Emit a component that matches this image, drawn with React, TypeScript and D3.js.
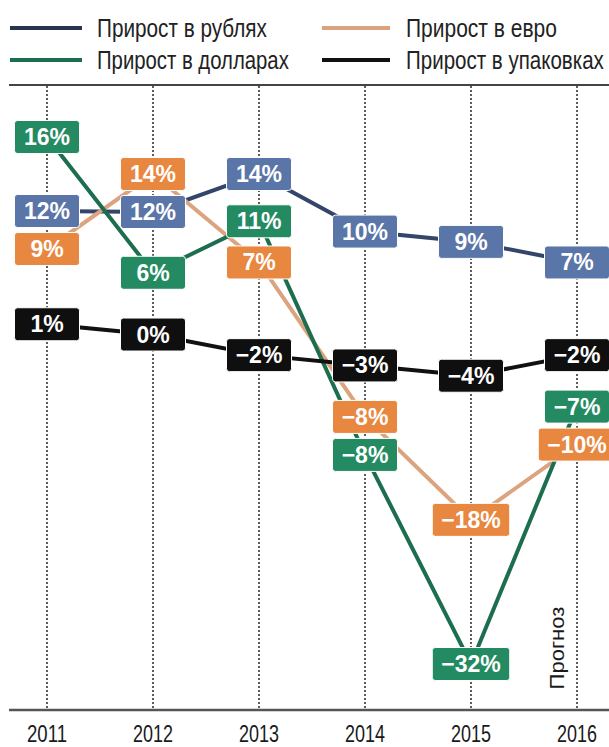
import { useEffect, useRef } from "react";
import * as d3 from "d3";

const years = ["2011", "2012", "2013", "2014", "2015", "2016"];
const rubles = [12, 12, 14, 10, 9, 7];
const euro = [9, 14, 7, -8, -18, -10];
const dollars = [16, 6, 11, -8, -32, -7];
const packs = [1, 0, -2, -3, -4, -2];
const seriesNames = [
  "Прирост в рублях",
  "Прирост в евро",
  "Прирост в долларах",
  "Прирост в упаковках",
];
const forecastLabel = "Прогноз";

const FONT = "'Liberation Sans', Arial, sans-serif";

const App: React.FC = () => {
  const ref = useRef<SVGSVGElement>(null);

  useEffect(() => {
    const svg = d3.select(ref.current);
    svg.selectAll("*").remove();

    const series = [
      { name: seriesNames[0], values: rubles, box: "#5a75a8", line: "#34456a" },
      { name: seriesNames[1], values: euro, box: "#e8873f", line: "#dca47e" },
      { name: seriesNames[2], values: dollars, box: "#248a62", line: "#1d6e4f" },
      { name: seriesNames[3], values: packs, box: "#0f0f0f", line: "#111111" },
    ];

    const x = d3.scalePoint<string>().domain(years).range([47, 577]);
    // piecewise scale, the top end is stretched a little in the original
    const y = d3.scaleLinear().domain([-32, 12, 16]).range([664, 211, 137]);

    // label positions, pushed down when boxes collide in the same year
    const gap = 38;
    const pos = series.map((s) => s.values.map((v) => y(v)));
    years.forEach((_, j) => {
      const order = series
        .map((_, i) => i)
        .sort((a, b) => pos[a][j] - pos[b][j] || a - b);
      for (let k = 1; k < order.length; k++) {
        const prev = pos[order[k - 1]][j];
        if (pos[order[k]][j] < prev + gap) pos[order[k]][j] = prev + gap;
      }
    });

    // squeeze a text horizontally to a given width (the original font is condensed)
    const squeeze = (
      t: d3.Selection<SVGTextElement, unknown, null, undefined>,
      tx: number,
      ty: number,
      w: number
    ) => {
      const len = (t.node() as SVGTextElement).getComputedTextLength();
      t.attr("transform", `translate(${tx},${ty}) scale(${w / len},1)`);
    };

    svg.append("rect").attr("width", 609).attr("height", 747).attr("fill", "#ffffff");

    // legend
    const legendSpots = [
      { x1: 10, x2: 82, tx: 97, y: 28, w: 170 },
      { x1: 322, x2: 390, tx: 406, y: 28, w: 151 },
      { x1: 10, x2: 82, tx: 97, y: 60, w: 192 },
      { x1: 322, x2: 390, tx: 406, y: 60, w: 198 },
    ];
    series.forEach((s, i) => {
      const p = legendSpots[i];
      svg
        .append("line")
        .attr("x1", p.x1)
        .attr("x2", p.x2)
        .attr("y1", p.y)
        .attr("y2", p.y)
        .attr("stroke", i === 0 ? "#27344f" : s.line)
        .attr("stroke-width", 4);
      const t = svg
        .append("text")
        .attr("font-family", FONT)
        .attr("font-size", 25)
        .attr("fill", "#222")
        .text(s.name);
      squeeze(t as any, p.tx, p.y + 9, p.w);
    });

    // top rule
    svg
      .append("line")
      .attr("x1", 9)
      .attr("x2", 609)
      .attr("y1", 85)
      .attr("y2", 85)
      .attr("stroke", "#444")
      .attr("stroke-width", 2);

    // dotted year gridlines
    svg
      .selectAll(".grid")
      .data(years)
      .enter()
      .append("line")
      .attr("class", "grid")
      .attr("x1", (d) => x(d)!)
      .attr("x2", (d) => x(d)!)
      .attr("y1", 86)
      .attr("y2", 709)
      .attr("stroke", "#333")
      .attr("stroke-width", 1.6)
      .attr("stroke-dasharray", "2,2");

    // bottom axis
    svg
      .append("line")
      .attr("x1", 9)
      .attr("x2", 609)
      .attr("y1", 710)
      .attr("y2", 710)
      .attr("stroke", "#555")
      .attr("stroke-width", 2.5);

    years.forEach((yr) => {
      const t = svg
        .append("text")
        .attr("font-family", FONT)
        .attr("font-size", 24)
        .attr("fill", "#1a1a1a")
        .text(yr);
      squeeze(t as any, x(yr)! - 20, 742, 40);
    });

    // forecast note
    const note = svg
      .append("text")
      .attr("text-anchor", "middle")
      .attr("font-family", FONT)
      .attr("font-size", 21)
      .attr("fill", "#1a1a1a")
      .text(forecastLabel);
    const noteLen = (note.node() as SVGTextElement).getComputedTextLength();
    note.attr("transform", `translate(564,648) rotate(-90) scale(${83 / noteLen},1)`);

    // lines
    const line = d3
      .line<number>()
      .x((_, j) => x(years[j])!)
      .y((d) => d);
    series.forEach((s, i) => {
      svg
        .append("path")
        .attr("d", line(pos[i]))
        .attr("fill", "none")
        .attr("stroke", s.line)
        .attr("stroke-width", 4);
    });

    // value boxes
    series.forEach((s, i) => {
      s.values.forEach((v, j) => {
        const g = svg
          .append("g")
          .attr("transform", `translate(${x(years[j])},${pos[i][j]})`);
        const rect = g.append("rect");
        const t = g
          .append("text")
          .attr("text-anchor", "middle")
          .attr("y", 8)
          .attr("font-family", FONT)
          .attr("font-weight", "bold")
          .attr("font-size", 23)
          .attr("fill", "#ffffff")
          .text(`${v < 0 ? "\u2212" + Math.abs(v) : v}%`);
        const tw = (t.node() as SVGTextElement).getComputedTextLength();
        const w = Math.max(65, tw + 18);
        rect
          .attr("x", -w / 2)
          .attr("y", -16.5)
          .attr("width", w)
          .attr("height", 33)
          .attr("rx", 3)
          .attr("fill", s.box)
          .attr("stroke", "#ffffff")
          .attr("stroke-width", 1);
      });
    });
  }, []);

  return (
    <svg
      ref={ref}
      width={609}
      height={747}
      style={{ position: "absolute", left: 0, top: 0 }}
    />
  );
};

export default App;
